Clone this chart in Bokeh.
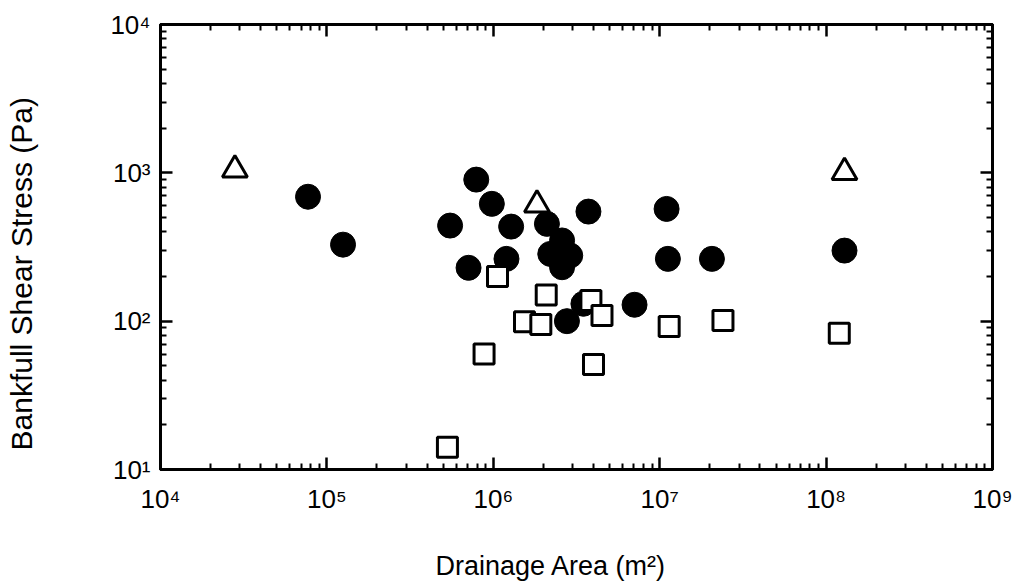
import math
from bokeh.plotting import figure
from bokeh.models import LogAxis, FixedTicker, ColumnDataSource, Range1d, Title
from bokeh.embed import file_html
from bokeh.resources import INLINE

# ---- data ----
circle_area = [7.7e4, 1.25e5, 7.9e5, 9.8e5, 5.5e5, 1.28e6, 3.73e6, 7.1e5, 1.2e6,
               2.10e6, 2.59e6, 2.20e6, 2.90e6, 2.59e6, 2.77e6, 3.48e6, 7.06e6,
               1.10e7, 1.12e7, 2.06e7, 1.29e8]
circle_stress = [690, 328, 900, 618, 441, 434, 548, 229, 263,
                 453, 350, 284, 277, 231, 100, 131, 129,
                 571, 263, 263, 299]

square_area = [1.06e6, 2.08e6, 1.54e6, 1.93e6, 3.86e6, 4.5e6, 8.8e5, 4.0e6,
               1.14e7, 2.40e7, 1.20e8, 5.3e5]
square_stress = [200, 150, 99, 95, 138, 109, 60, 51, 92, 101, 83, 14.1]

triangle_area = [2.8e4, 1.83e6, 1.29e8]
triangle_stress = [1048, 608, 1008]

x_exponents = [4, 5, 6, 7, 8, 9]
y_exponents = [1, 2, 3, 4]
x_tick_labels = ["10⁴", "10⁵", "10⁶", "10⁷", "10⁸", "10⁹"]
y_tick_labels = ["10¹", "10²", "10³", "10⁴"]
x_title = "Drainage Area (m²)"
y_title = "Bankfull Shear Stress (Pa)"

FONT = "Liberation Sans"

p = figure(width=1018, height=584, x_axis_type="log", y_axis_type="log",
           x_range=Range1d(1e4, 1e9), y_range=Range1d(10, 1e4),
           output_backend="svg", toolbar_location=None,
           min_border_left=160, min_border_right=26, min_border_top=24,
           min_border_bottom=115)
p.background_fill_color = "white"
p.border_fill_color = "white"
p.xgrid.visible = False
p.ygrid.visible = False
p.outline_line_color = "black"
p.outline_line_width = 3

x_major = [10.0 ** e for e in x_exponents]
x_minor = [k * 10.0 ** e for e in x_exponents[:-1] for k in range(2, 10)]
y_major = [10.0 ** e for e in y_exponents]
y_minor = [k * 10.0 ** e for e in y_exponents[:-1] for k in range(2, 10)]


def hide_labels(ax, major):
    ax.major_label_overrides = {v: "" for v in major}
    ax.major_label_text_font_size = "0px"
    ax.major_label_standoff = 0


def style_axis(ax, major, minor, labels=None):
    ax.ticker = FixedTicker(ticks=major, minor_ticks=minor)
    if labels is None:
        hide_labels(ax, major)
    else:
        ax.major_label_overrides = dict(zip(major, labels))
        ax.major_label_text_font_size = "26px"
        ax.major_label_text_font = FONT
        ax.major_label_text_color = "black"
    ax.axis_line_width = 3
    ax.axis_line_color = "black"
    ax.major_tick_in = 12
    ax.major_tick_out = 0
    ax.minor_tick_in = 6
    ax.minor_tick_out = 0
    ax.major_tick_line_width = 2.5
    ax.minor_tick_line_width = 2
    ax.major_tick_line_color = "black"
    ax.minor_tick_line_color = "black"


def spacer_axis(major, gap):
    ax = LogAxis(ticker=FixedTicker(ticks=major[:1], minor_ticks=[]))
    hide_labels(ax, major)
    ax.axis_line_color = None
    ax.major_tick_line_color = None
    ax.minor_tick_line_color = None
    ax.major_tick_in = 0
    ax.major_tick_out = gap
    ax.minor_tick_in = 0
    ax.minor_tick_out = 0
    return ax


style_axis(p.xaxis[0], x_major, x_minor, x_tick_labels)
p.xaxis[0].major_label_standoff = 14
style_axis(p.yaxis[0], y_major, y_minor, y_tick_labels)
p.yaxis[0].major_label_standoff = 10
top_ax = LogAxis()
right_ax = LogAxis()
style_axis(top_ax, x_major, x_minor)
style_axis(right_ax, y_major, y_minor)
p.add_layout(top_ax, "above")
p.add_layout(right_ax, "right")

# spacers that push the axis titles outward
p.add_layout(spacer_axis(x_major, 32), "below")
p.add_layout(spacer_axis(y_major, 70), "left")

# ---- markers ----
csrc = ColumnDataSource(dict(x=circle_area, y=circle_stress))
ssrc = ColumnDataSource(dict(x=square_area, y=square_stress))
tsrc = ColumnDataSource(dict(x=triangle_area, y=triangle_stress))

p.scatter("x", "y", source=csrc, marker="circle", size=25,
          fill_color="black", line_color="black", line_width=1)
p.scatter("x", "y", source=ssrc, marker="square", size=20,
          fill_color="white", line_color="black", line_width=3)
p.scatter("x", "y", source=tsrc, marker="triangle", size=25,
          fill_color="white", line_color="black", line_width=3)

# ---- axis titles ----
p.add_layout(Title(text=x_title, align="left", offset=275, standoff=0,
                   text_font=FONT, text_font_size="27px",
                   text_font_style="normal", text_color="black"), "below")
p.add_layout(Title(text=y_title, align="left", offset=19, standoff=0,
                   text_font=FONT, text_font_size="30px",
                   text_font_style="normal", text_color="black"), "left")

open("out.html", "w").write(file_html(p, INLINE))
